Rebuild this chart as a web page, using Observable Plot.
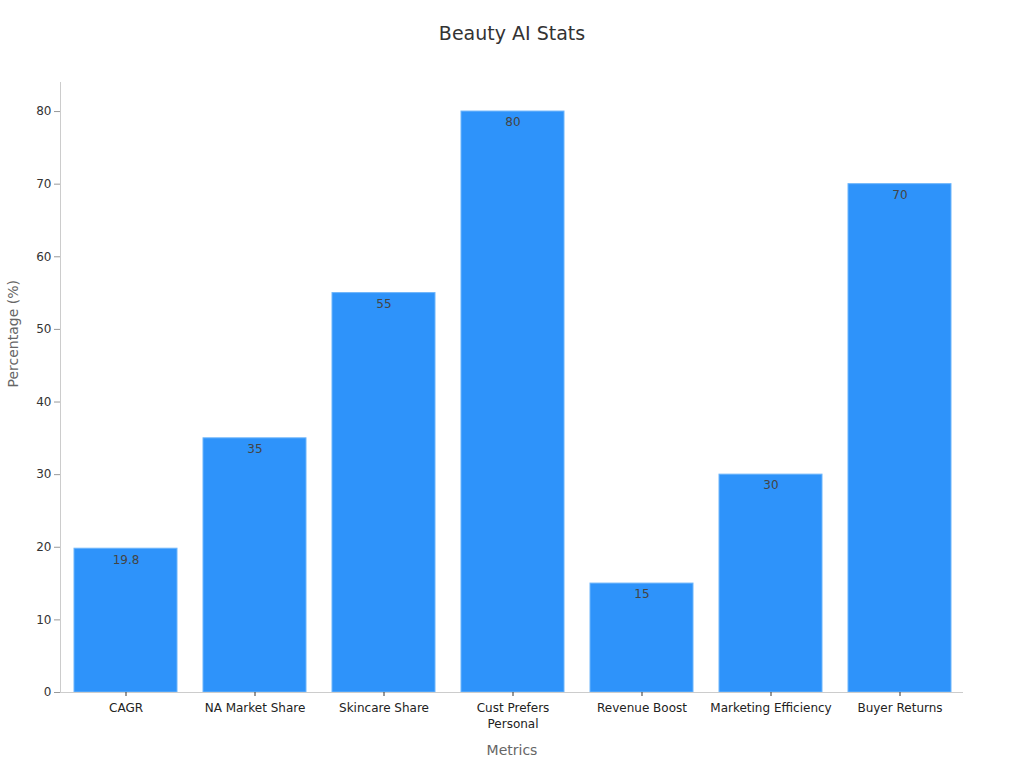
<!DOCTYPE html>
<html>
<head>
<meta charset="utf-8">
<script src="https://cdn.jsdelivr.net/npm/d3@7"></script>
<script src="https://cdn.jsdelivr.net/npm/@observablehq/plot@0.6"></script>
<style>
  body { margin: 0; background: #fff; font-family: "DejaVu Sans", sans-serif; }
  #title { height: 60px; line-height: 66px; text-align: center; font-size: 19px; color: #333; }
</style>
</head>
<body>
<div id="title">Beauty AI Stats</div>
<div id="chart"></div>
<script>
const categories = ["CAGR", "NA Market Share", "Skincare Share", "Cust Prefers Personal", "Revenue Boost", "Marketing Efficiency", "Buyer Returns"];
const values = [19.8, 35, 55, 80, 15, 30, 70];
const yTicks = [0, 10, 20, 30, 40, 50, 60, 70, 80];

const data = categories.map((c, i) => ({metric: c, value: values[i]}));
const wrap = (s) => s === "Cust Prefers Personal" ? "Cust Prefers\nPersonal" : s;

const chart = Plot.plot({
  width: 1024,
  height: 708,
  marginTop: 22,
  marginBottom: 76,
  marginLeft: 60,
  marginRight: 61,
  style: {fontFamily: "DejaVu Sans, sans-serif", fontSize: "12px", color: "#333", background: "#fff"},
  x: {domain: categories, paddingInner: 0.2, paddingOuter: 0.1, range: [61, 964], label: null},
  y: {domain: [0, 84], label: null},
  marks: [
    Plot.barY(data, {x: "metric", y: "value", fill: "#2E93FA", stroke: "#6DB5FB", strokeWidth: 1}),
    Plot.text(data, {x: "metric", y: "value", text: d => String(d.value), dy: 11, fill: "#444", fontSize: 12}),
    Plot.frame({anchor: "left", stroke: "#ccc"}),
    Plot.ruleY([0], {stroke: "#ccc"}),
    Plot.axisY({ticks: yTicks, tickSize: 6, stroke: "#999", tickPadding: 3, fill: "#333", fontSize: 12, label: null}),
    Plot.axisX({tickSize: 4, tickFormat: wrap, fill: "#222", fontSize: 12, tickPadding: 4, lineHeight: 1.35, label: null}),
    Plot.text(["Percentage (%)"], {frameAnchor: "left", dx: -47, rotate: -90, fill: "#666", fontSize: 14}),
    Plot.text(["Metrics"], {frameAnchor: "bottom", dy: 62, fill: "#666", fontSize: 14})
  ]
});
document.getElementById("chart").appendChild(chart);
</script>
</body>
</html>
